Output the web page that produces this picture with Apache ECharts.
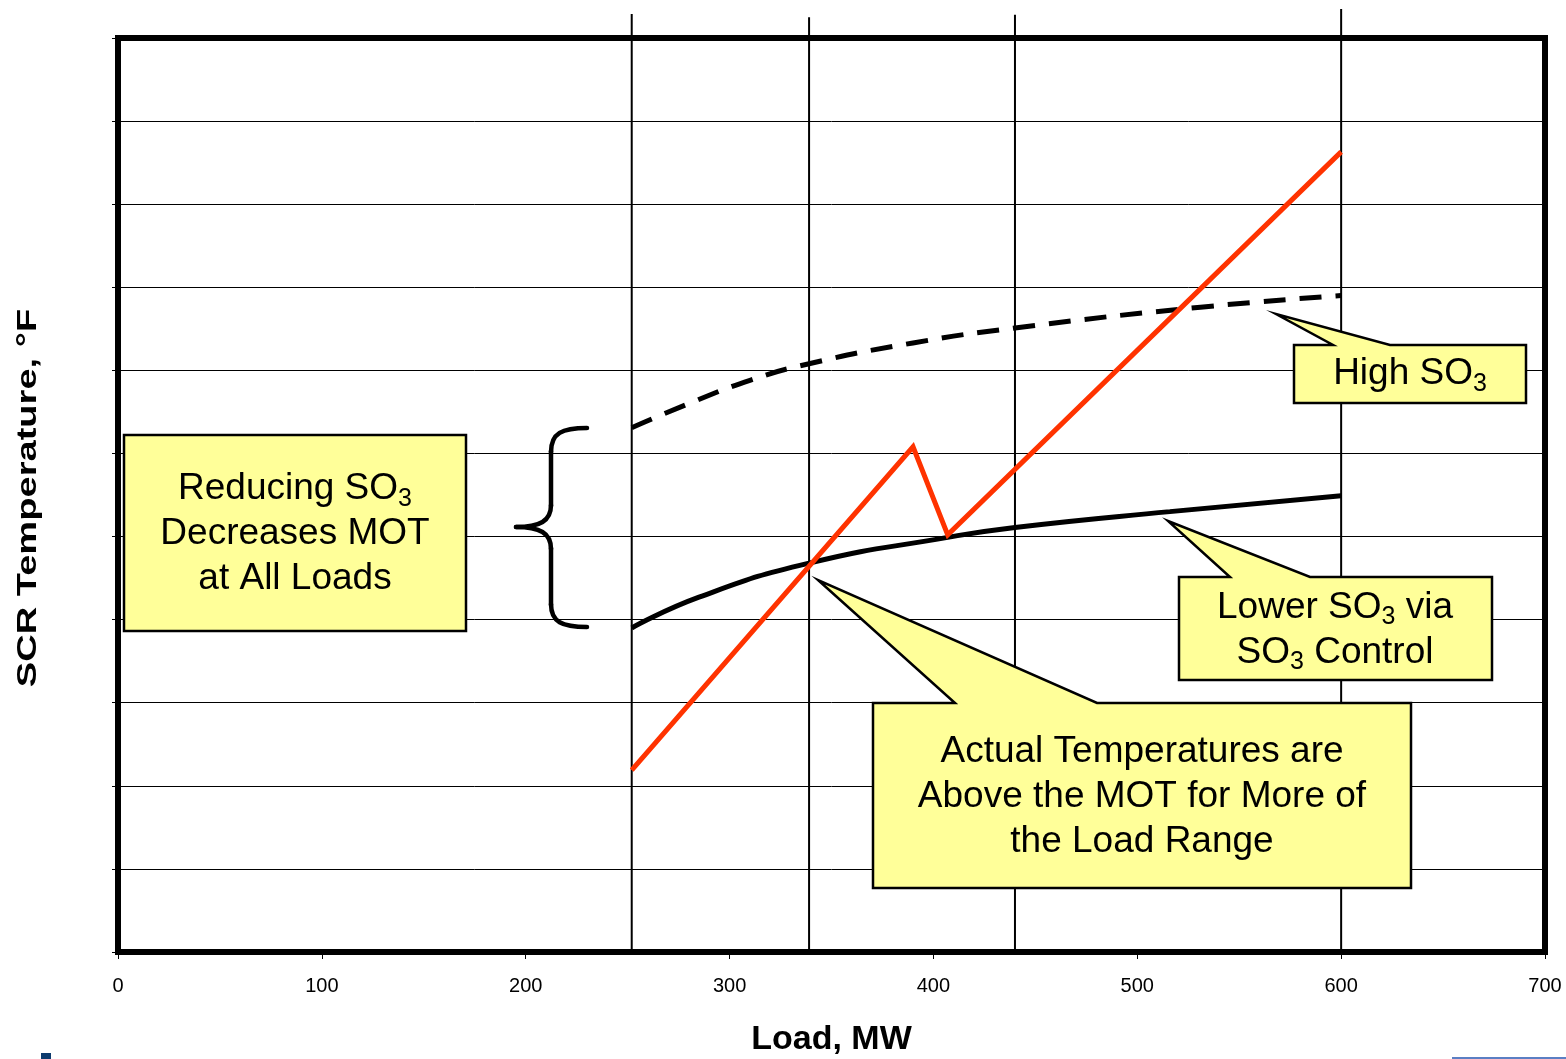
<!DOCTYPE html>
<html>
<head>
<meta charset="utf-8">
<script src="https://cdn.jsdelivr.net/npm/echarts@6/dist/echarts.min.js"></script>
<style>
html,body{margin:0;padding:0;background:#fff;}
#chart{width:1566px;height:1059px;}
</style>
</head>
<body>
<div id="chart"></div>
<script>
// ---- data ----
var xTicks = [0, 100, 200, 300, 400, 500, 600, 700];
var verticalLoads = [252, 339, 440, 600];
var verticalTops = [11.29, 11.25, 11.28, 11.35];
var highSO3Load = [252, 280, 310, 339, 390, 440, 531, 600];
var highSO3Temp = [6.31, 6.60, 6.88, 7.08, 7.33, 7.51, 7.76, 7.90];
var lowSO3Load = [252, 285, 339, 407, 440, 516, 600];
var lowSO3Temp = [3.90, 4.27, 4.68, 4.99, 5.11, 5.30, 5.49];
var actualLoad = [252, 390, 407, 600];
var actualTemp = [2.19, 6.08, 5.02, 9.63];

function pairs(xs, ys){ return xs.map(function(x,i){ return [x, ys[i]]; }); }

var FONT = '"Liberation Sans", Arial, Helvetica, sans-serif';
var chart = echarts.init(document.getElementById('chart'));

function callout(box, base1, base2, tip, text, cx, cy){
  var x0=box[0], y0=box[1], x1=box[2], y1=box[3];
  return [{
    type:'polygon', z:100,
    shape:{points:[[x0,y0],[base1,y0],tip,[base2,y0],[x1,y0],[x1,y1],[x0,y1]]},
    style:{fill:'#FFFF99', stroke:'#000', lineWidth:2.5, lineJoin:'miter'}
  },{
    type:'text', z:101, x:cx, y:cy,
    style:{
      text:text, fill:'#000', align:'center', verticalAlign:'middle',
      font:'37px ' + FONT, lineHeight:45,
      rich:{
        n:{font:'37px ' + FONT, lineHeight:45, fill:'#000'},
        s:{font:'25px ' + FONT, lineHeight:18, verticalAlign:'bottom', fill:'#000'}
      }
    }
  }];
}

var graphics = [];
graphics = graphics.concat(callout([124,435,466,631], 300, 300, [300,435],
  '{n|Reducing SO}{s|3}\n{n|Decreases MOT}\n{n|at All Loads}', 295, 534));
graphics = graphics.concat(callout([1294,345,1526,403], 1333, 1390, [1276,314],
  '{n|High SO}{s|3}', 1410, 374));
graphics = graphics.concat(callout([1179,577,1492,680], 1230, 1310, [1168,521],
  '{n|Lower SO}{s|3}{n| via}\n{n|SO}{s|3}{n| Control}', 1335, 630));
graphics = graphics.concat(callout([873,703,1411,888], 955, 1097, [818,580],
  '{n|Actual Temperatures are}\n{n|Above the MOT for More of}\n{n|the Load Range}', 1142, 797));

// curly brace built from curve and line pieces
var braceStyle = {fill:null, stroke:'#000', lineWidth:4.5, lineCap:'round'};
[
  {x1:587,y1:428,cpx1:562,cpy1:428,cpx2:551,cpy2:433,x2:551,y2:452},
  {x1:551,y1:505,cpx1:551,cpy1:521,cpx2:540,cpy2:527,x2:516,y2:527},
  {x1:516,y1:527,cpx1:540,cpy1:527,cpx2:551,cpy2:533,x2:551,y2:549},
  {x1:551,y1:604,cpx1:551,cpy1:622,cpx2:562,cpy2:627,x2:587,y2:627}
].forEach(function(s){ graphics.push({type:'bezierCurve', z:100, shape:s, style:braceStyle}); });
graphics.push({type:'line', z:100, shape:{x1:551,y1:451,x2:551,y2:506}, style:braceStyle});
graphics.push({type:'line', z:100, shape:{x1:551,y1:548,x2:551,y2:605}, style:braceStyle});

// y-axis title (stretched along its length like the original)
graphics.push({
  type:'text', x:28, y:498, rotation:Math.PI/2, scaleX:1.36, scaleY:1,
  style:{text:'SCR Temperature, °F', font:'bold 28px ' + FONT, fill:'#000',
    align:'center', verticalAlign:'middle'}
});

graphics.push({type:'rect', shape:{x:41,y:1053,width:10,height:6}, style:{fill:'#0d3b6e'}});
graphics.push({type:'rect', shape:{x:1452,y:1057,width:114,height:2}, style:{fill:'#5b7fc4'}});

var verticalSeries = verticalLoads.map(function(x, i){
  return {
    type:'line', clip:false, z:2, symbol:'none', silent:true,
    data:[[x, 0], [x, verticalTops[i]]],
    lineStyle:{color:'#000', width:2}
  };
});

var option = {
  animation:false,
  backgroundColor:'#fff',
  grid:{left:118, right:21, top:38, bottom:107, outerBoundsMode:'none', containLabel:false,
    show:true, borderColor:'#000', borderWidth:6, backgroundColor:'transparent'},
  xAxis:{
    type:'value', min:0, max:700, interval:100,
    name:'Load, MW', nameLocation:'middle', nameGap:71,
    nameTextStyle:{fontFamily:FONT, fontSize:34, fontWeight:'bold', color:'#000'},
    axisLine:{show:false},
    axisTick:{show:true, length:7, lineStyle:{color:'#000', width:1}},
    axisLabel:{fontFamily:FONT, fontSize:20, color:'#000', margin:24,
      formatter:function(v){ return xTicks.indexOf(v) >= 0 ? String(v) : ''; }},
    splitLine:{show:false}
  },
  yAxis:{
    type:'value', min:0, max:11, interval:1,
    axisLine:{show:false},
    axisTick:{show:true, length:6, lineStyle:{color:'#000', width:1}},
    axisLabel:{show:false},
    splitLine:{show:true, lineStyle:{color:'#000', width:1}}
  },
  series: verticalSeries.concat([
    {
      name:'High SO3', type:'line', data:pairs(highSO3Load, highSO3Temp), z:3,
      smooth:0.5, symbol:'none',
      lineStyle:{color:'#000', width:5, type:[22,14]}
    },
    {
      name:'Lower SO3', type:'line', data:pairs(lowSO3Load, lowSO3Temp), z:3,
      smooth:0.5, symbol:'none',
      lineStyle:{color:'#000', width:5}
    },
    {
      name:'Actual', type:'line', data:pairs(actualLoad, actualTemp), z:4,
      symbol:'none', lineStyle:{color:'#FF3300', width:5, join:'miter'}
    }
  ]),
  graphic:graphics
};
chart.setOption(option);
</script>
</body>
</html>
